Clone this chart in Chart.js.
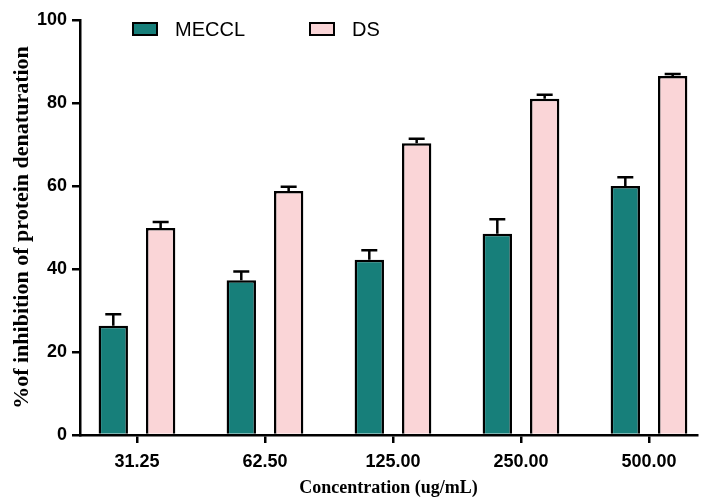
<!DOCTYPE html>
<html>
<head>
<meta charset="utf-8">
<script src="https://cdn.jsdelivr.net/npm/chart.js@4/dist/chart.umd.min.js"></script>
<style>
  body { margin: 0; background: #fff; }
</style>
</head>
<body>
<canvas id="chart" width="701" height="497"></canvas>
<script>
const concentrations = ['31.25', '62.50', '125.00', '250.00', '500.00'];
const meccl = [26.3, 37.3, 42.2, 48.5, 60.0];
const mecclErr = [2.8, 2.1, 2.3, 3.5, 2.1];
const ds = [49.9, 58.8, 70.3, 81.0, 86.5];
const dsErr = [1.4, 1.0, 1.1, 1.0, 0.5];
const yTicks = [0, 20, 40, 60, 80, 100];

const toPoints = vals => vals.map((v, i) => ({x: i, y: v}));

// upward-only error bars with caps
const errorBars = {
    id: 'errorBars',
    afterDatasetsDraw(chart) {
        const ctx = chart.ctx;
        const y = chart.scales.y;
        ctx.save();
        ctx.strokeStyle = '#000';
        ctx.lineWidth = 2.5;
        chart.data.datasets.forEach((d, di) => {
            const meta = chart.getDatasetMeta(di);
            meta.data.forEach((bar, i) => {
                const top = y.getPixelForValue(d.data[i].y + d.errors[i]);
                ctx.beginPath();
                ctx.moveTo(bar.x, bar.y);
                ctx.lineTo(bar.x, top);
                ctx.moveTo(bar.x - 8, top);
                ctx.lineTo(bar.x + 8, top);
                ctx.stroke();
            });
        });
        ctx.restore();
    }
};

// legend drawn inside the plot, like the original
const topLegend = {
    id: 'topLegend',
    afterDraw(chart) {
        const ctx = chart.ctx;
        const starts = [133, 310];
        ctx.save();
        ctx.font = '20px "Liberation Sans", Arial, sans-serif';
        ctx.textBaseline = 'middle';
        chart.data.datasets.forEach((d, i) => {
            const x = starts[i];
            ctx.fillStyle = d.backgroundColor;
            ctx.fillRect(x, 23, 24, 12);
            ctx.strokeStyle = '#000';
            ctx.lineWidth = 2;
            ctx.strokeRect(x, 23, 24, 12);
            ctx.fillStyle = '#000';
            ctx.fillText(d.label, x + 42, 30);
        });
        ctx.restore();
    }
};

new Chart(document.getElementById('chart'), {
    type: 'bar',
    data: {
        datasets: [
            {
                label: 'MECCL',
                data: toPoints(meccl),
                errors: mecclErr,
                backgroundColor: '#177f7a',
                borderColor: '#000',
                borderWidth: 2.5
            },
            {
                label: 'DS',
                data: toPoints(ds),
                errors: dsErr,
                backgroundColor: '#fad5d7',
                borderColor: '#000',
                borderWidth: 2.5
            }
        ]
    },
    options: {
        responsive: false,
        animation: false,
        categoryPercentage: 0.74,
        barPercentage: 0.62,
        layout: {padding: {top: 20, right: 4, left: 0, bottom: 0}},
        plugins: {
            legend: {display: false},
            tooltip: {enabled: false}
        },
        scales: {
            x: {
                type: 'linear',
                offset: false,
                min: -0.445,
                max: 4.375,
                afterBuildTicks: s => { s.ticks = concentrations.map((c, i) => ({value: i})); },
                afterFit: s => { s.height = 62; },
                ticks: {
                    callback: v => concentrations[v],
                    color: '#000',
                    padding: 8,
                    maxRotation: 0,
                    font: {family: '"Liberation Sans", Arial, sans-serif', size: 18, weight: 'bold'}
                },
                grid: {offset: false, drawOnChartArea: false, drawTicks: true, tickLength: 8, color: '#000', lineWidth: 2.5},
                border: {display: true, color: '#000', width: 2.5},
                title: {
                    display: true,
                    text: 'Concentration (ug/mL)',
                    color: '#000',
                    padding: {top: 0, bottom: 0},
                    font: {family: '"Liberation Serif", "Times New Roman", serif', size: 18, weight: 'bold', lineHeight: 1}
                }
            },
            y: {
                min: 0,
                max: 100,
                afterBuildTicks: s => { s.ticks = yTicks.map(v => ({value: v})); },
                afterFit: s => { s.width = 80; },
                ticks: {
                    color: '#000',
                    padding: 5,
                    font: {family: '"Liberation Sans", Arial, sans-serif', size: 18, weight: 'bold'}
                },
                grid: {drawOnChartArea: false, drawTicks: true, tickLength: 8, color: '#000', lineWidth: 2.5},
                border: {display: true, color: '#000', width: 2.5},
                title: {
                    display: true,
                    text: '%of inhibition of protein denaturation',
                    color: '#000',
                    padding: {top: 9, bottom: 0},
                    font: {family: '"Liberation Serif", "Times New Roman", serif', size: 22, weight: 'bold', lineHeight: 1.2}
                }
            }
        }
    },
    plugins: [errorBars, topLegend]
});
</script>
</body>
</html>
